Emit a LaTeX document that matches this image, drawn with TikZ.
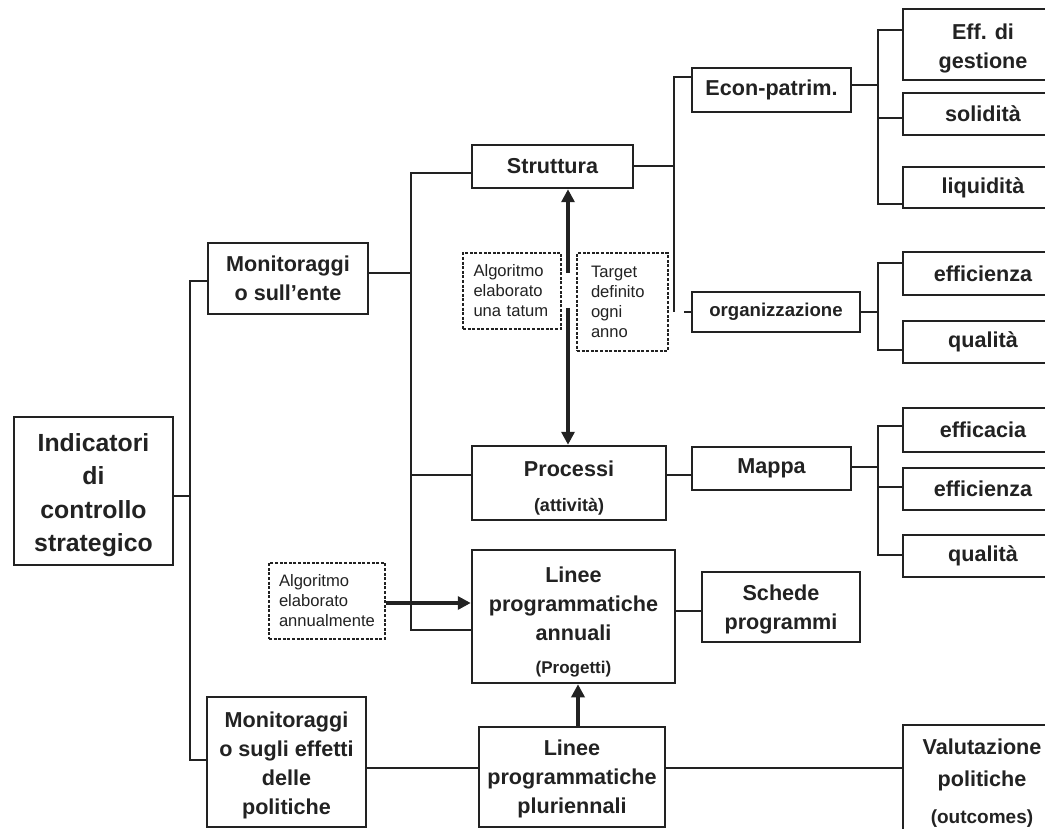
\documentclass[tikz,border=0pt]{standalone}
\usepackage{fontspec}
\setmainfont{Liberation Sans}
\usetikzlibrary{arrows.meta,calc}
\definecolor{ink}{HTML}{222222}
% invisible strut that makes the first line of a box taller
\newcommand{\toppad}[1]{\rule{0pt}{#1}}
\begin{document}
\begin{tikzpicture}[x=1pt,y=-1pt,
  box/.style={draw=ink,line width=2.5pt,rectangle,inner sep=0pt,align=center,text=ink,
    font=\bfseries\fontsize{21.6}{29}\selectfont},
  note/.style={draw=ink,line width=2.6pt,dash pattern=on 3pt off 1.6pt,rectangle,inner sep=0pt,
    align=left,text=ink,font=\fontsize{16.6}{20}\selectfont},
  link/.style={draw=ink,line width=2.1pt},
  flow/.style={draw=ink,line width=3.8pt,-{Triangle[length=13pt,width=13pt]}},
]
\useasboundingbox (0,0) rectangle (1045,829);
\fill[white] (0,0) rectangle (1045,829);
\clip (0,0) rectangle (1045,829);

% root and first level
\node[box,minimum width=159pt,minimum height=148pt,font=\bfseries\fontsize{24.8}{33.5}\selectfont]
  (ind) at (93.5,491) {\toppad{26pt}Indicatori\\di\\controllo\\strategico};
\node[box,minimum width=160pt,minimum height=71pt] (mon1) at (288,278.5) {Monitoraggi\\o sull’ente};
\node[box,minimum width=159pt,minimum height=130pt] (mon2) at (286.5,762)
  {\toppad{22.5pt}Monitoraggi\\o sugli effetti\\delle\\politiche};

% second level
\node[box,minimum width=161pt,minimum height=43pt] (str) at (552.5,166.5) {Struttura};
\node[box,minimum width=194pt,minimum height=74pt] (proc) at (569,483)
  {\toppad{26pt}Processi\\[6pt]{\fontsize{18}{29}\selectfont(attività)}};
\node[box,minimum width=203pt,minimum height=133pt] (ann) at (573.5,616.5)
  {\toppad{26pt}Linee\\programmatiche\\annuali\\[4pt]{\fontsize{17}{29}\selectfont(Progetti)}};
\node[box,minimum width=186pt,minimum height=100pt] (plur) at (572,777)
  {\toppad{20pt}Linee\\programmatiche\\pluriennali};

% third level
\node[box,minimum width=159pt,minimum height=44pt] (econ) at (771.5,90) {Econ-patrim.};
\node[box,minimum width=168pt,minimum height=40pt,font=\bfseries\fontsize{18.6}{22}\selectfont]
  (org) at (776,312) {organizzazione};
\node[box,minimum width=159pt,minimum height=43pt] (mappa) at (771.5,468.5) {Mappa};
\node[box,minimum width=158pt,minimum height=70pt] (sch) at (781,607) {\toppad{21pt}Schede\\programmi};

% right column
\node[box,minimum width=160pt,minimum height=71pt] (eff) at (983,44.5) {\toppad{24pt}Eff. di\\gestione};
\node[box,minimum width=160pt,minimum height=42pt] (sol) at (983,114) {solidità};
\node[box,minimum width=160pt,minimum height=41pt] (liq) at (983,187.5) {liquidità};
\node[box,minimum width=160pt,minimum height=43pt] (ez1) at (983,273.5) {efficienza};
\node[box,minimum width=160pt,minimum height=42pt] (q1) at (983,342) {qualità};
\node[box,minimum width=160pt,minimum height=44pt] (ec) at (983,430) {efficacia};
\node[box,minimum width=160pt,minimum height=42pt] (ez2) at (983,489) {efficienza};
\node[box,minimum width=160pt,minimum height=42pt] (q2) at (983,556) {qualità};
\node[box,minimum width=158pt,minimum height=116pt,font=\bfseries\fontsize{21.6}{32}\selectfont]
  (val) at (982,783) {Valutazione\\politiche\\[5pt]{\fontsize{19}{32}\selectfont(outcomes)}};

% dashed notes
\node[note,minimum width=98pt,minimum height=76pt,text width=77pt] (na) at (512,291) {Algoritmo\\elaborato\\una tatum};
\node[note,minimum width=91pt,minimum height=98pt,text width=63pt] (nt) at (622.5,302) {Target\\definito\\ogni\\anno};
\node[note,minimum width=116pt,minimum height=76pt] (nb) at (327,601) {Algoritmo\\elaborato\\annualmente};

% trunk lines
\coordinate (t1) at (190,0);
\coordinate (t2) at (411,0);
\coordinate (t3) at (674,0);
\coordinate (t4) at (878,0);

\draw[link] (ind.east |- 0,496) -- (t1 |- 0,496);
\draw[link] (mon1.west |- 0,281) -| (t1 |- 0,760) -- (mon2.west |- 0,760);

\draw[link] (mon1.east |- 0,273) -- (t2 |- 0,273);
\draw[link] (str.west |- 0,173) -| (t2 |- 0,630) -- (ann.west |- 0,630);
\draw[link] (proc.west |- 0,475) -- (t2 |- 0,475);

\draw[link] (str.east |- 0,166) -- (t3 |- 0,166);
\draw[link] (econ.west |- 0,77) -| (t3 |- 0,312);
\draw[link] (684,312) -- (org.west);

\draw[link] (econ.east |- 0,85) -- (t4 |- 0,85);
\draw[link] (eff.west |- 0,30) -| (t4 |- 0,204) -- (liq.west |- 0,204);
\draw[link] (sol.west |- 0,118) -- (t4 |- 0,118);

\draw[link] (org.east) -- (t4 |- org.east);
\draw[link] (ez1.west |- 0,263) -| (t4 |- 0,350) -- (q1.west |- 0,350);

\draw[link] (proc.east |- 0,475) -- (mappa.west |- 0,475);
\draw[link] (mappa.east |- 0,467) -- (t4 |- 0,467);
\draw[link] (ec.west |- 0,426) -| (t4 |- 0,555) -- (q2.west |- 0,555);
\draw[link] (ez2.west |- 0,487) -- (t4 |- 0,487);

\draw[link] (ann.east |- 0,611) -- (sch.west |- 0,611);
\draw[link] (mon2.east |- 0,768) -- (plur.west |- 0,768);
\draw[link] (plur.east |- 0,768) -- (val.west |- 0,768);

% arrows
\coordinate (a1) at (568,273);
\coordinate (a2) at (568,308);
\draw[flow] (a1) -- (str.south -| a1);
\draw[flow] (a2) -- (proc.north -| a2);
\draw[flow] (plur.north -| 578,0) -- (ann.south -| 578,0);
\draw[flow] (nb.east |- 0,603) -- (ann.west |- 0,603);
\end{tikzpicture}
\end{document}
